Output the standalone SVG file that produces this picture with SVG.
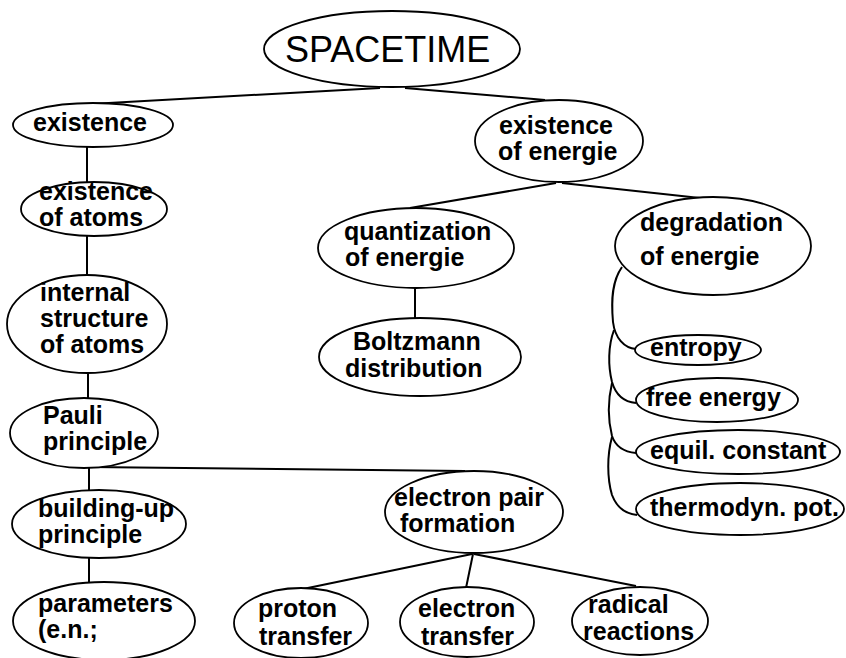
<svg xmlns="http://www.w3.org/2000/svg" width="846" height="658" viewBox="0 0 846 658">
<style>
.n ellipse{fill:#fff;stroke:#000;stroke-width:1.8}
.n text{font-family:"Liberation Sans",Arial,sans-serif;font-weight:bold;font-size:25px;fill:#000}
.c line,.c path{stroke:#000;stroke-width:2;fill:none}
</style>
<rect width="846" height="658" fill="#fff"/>
<g class="c" id="connectors">
<line x1="380" y1="88" x2="55" y2="106"/>
<line x1="405" y1="88" x2="545" y2="100"/>
<line x1="87" y1="147" x2="87" y2="182"/>
<line x1="87" y1="236" x2="87" y2="276"/>
<line x1="88" y1="373" x2="88" y2="398"/>
<line x1="89" y1="467" x2="89" y2="491"/>
<line x1="89" y1="467" x2="465" y2="471"/>
<line x1="89" y1="558" x2="89" y2="582"/>
<line x1="472" y1="554" x2="303" y2="589"/>
<line x1="473" y1="554" x2="466" y2="588"/>
<line x1="474" y1="554" x2="636" y2="586"/>
<line x1="556" y1="183" x2="410" y2="208"/>
<line x1="562" y1="183" x2="700" y2="198"/>
<line x1="415" y1="288" x2="415" y2="318"/>
<path d="M622,267 C612,281 611,300 613,322 C615,338 624,348 636,349"/>
<path d="M614,330 C608,346 608,366 612,382 C616,396 625,402 636,403"/>
<path d="M612,383 C608,400 608,420 612,436 C616,448 625,452 636,453"/>
<path d="M612,437 C607,455 607,478 612,495 C617,508 626,514 637,515"/>
</g>
<g class="n" id="spacetime">
<ellipse cx="392" cy="49" rx="128" ry="38"/>
<text x="285" y="62" style="font-weight:normal;font-size:36px">SPACETIME</text>
</g>
<g class="n" id="existence">
<ellipse cx="93" cy="125" rx="80" ry="22"/>
<text x="33" y="131">existence</text>
</g>
<g class="n" id="existence-atoms">
<ellipse cx="94" cy="209" rx="73" ry="27"/>
<text x="39" y="200">existence</text>
<text x="39" y="226">of atoms</text>
</g>
<g class="n" id="internal-structure">
<ellipse cx="87" cy="324" rx="80" ry="49"/>
<text x="40" y="301">internal</text>
<text x="40" y="327">structure</text>
<text x="40" y="353">of atoms</text>
</g>
<g class="n" id="pauli">
<ellipse cx="84" cy="433" rx="74" ry="35"/>
<text x="43" y="424">Pauli</text>
<text x="43" y="450">principle</text>
</g>
<g class="n" id="building-up">
<ellipse cx="99" cy="524" rx="87" ry="34"/>
<text x="38" y="517">building-up</text>
<text x="38" y="543">principle</text>
</g>
<g class="n" id="parameters">
<ellipse cx="104" cy="621" rx="91" ry="39"/>
<text x="38" y="612">parameters</text>
<text x="38" y="638">(e.n.;</text>
</g>
<g class="n" id="electron-pair">
<ellipse cx="474" cy="512" rx="89" ry="41"/>
<text x="394" y="506">electron pair</text>
<text x="400" y="532">formation</text>
</g>
<g class="n" id="proton-transfer">
<ellipse cx="301" cy="623" rx="67" ry="35"/>
<text x="258" y="617">proton</text>
<text x="259" y="645">transfer</text>
</g>
<g class="n" id="electron-transfer">
<ellipse cx="467" cy="622" rx="67" ry="35"/>
<text x="418" y="617">electron</text>
<text x="421" y="645">transfer</text>
</g>
<g class="n" id="radical-reactions">
<ellipse cx="640" cy="621" rx="68" ry="34"/>
<text x="588" y="613">radical</text>
<text x="583" y="640">reactions</text>
</g>
<g class="n" id="existence-energie">
<ellipse cx="559" cy="141" rx="84" ry="41"/>
<text x="499" y="134">existence</text>
<text x="498" y="160">of energie</text>
</g>
<g class="n" id="quantization">
<ellipse cx="416" cy="248" rx="98" ry="40"/>
<text x="344" y="240">quantization</text>
<text x="345" y="266">of energie</text>
</g>
<g class="n" id="boltzmann">
<ellipse cx="420" cy="357" rx="101" ry="39"/>
<text x="353" y="350">Boltzmann</text>
<text x="345" y="377">distribution</text>
</g>
<g class="n" id="degradation">
<ellipse cx="713" cy="246" rx="98" ry="49"/>
<text x="640" y="231">degradation</text>
<text x="640" y="265">of energie</text>
</g>
<g class="n" id="entropy">
<ellipse cx="698" cy="350" rx="63" ry="15"/>
<text x="650" y="356">entropy</text>
</g>
<g class="n" id="free-energy">
<ellipse cx="717" cy="400" rx="81" ry="22"/>
<text x="646" y="406">free energy</text>
</g>
<g class="n" id="equil-constant">
<ellipse cx="738" cy="452" rx="102" ry="22"/>
<text x="650" y="459">equil. constant</text>
</g>
<g class="n" id="thermodyn-pot">
<ellipse cx="740" cy="509" rx="104" ry="26"/>
<text x="650" y="516">thermodyn. pot.</text>
</g>
</svg>
